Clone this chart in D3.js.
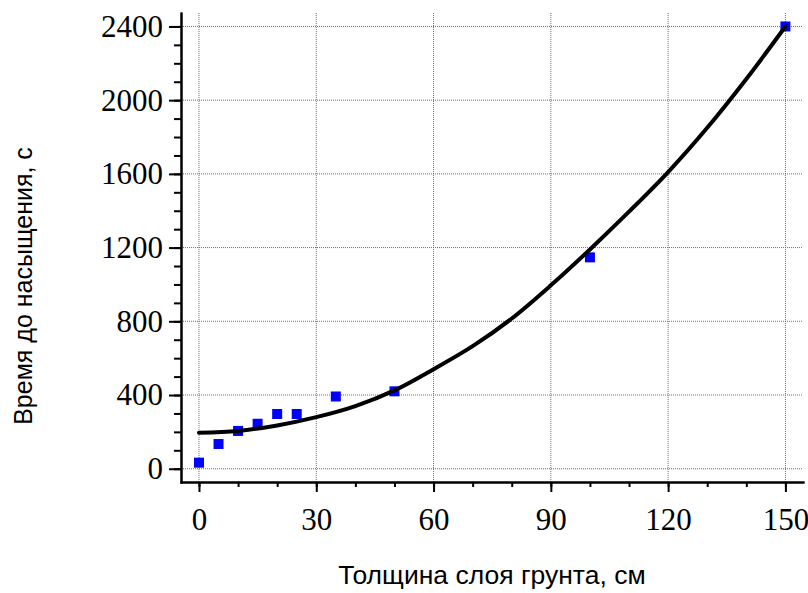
<!DOCTYPE html>
<html lang="ru">
<head>
<meta charset="utf-8">
<style>
  body { margin: 0; background: #fff; }
  .grid line { stroke: #6e6e6e; stroke-width: 1px; stroke-dasharray: 1,1; }
  .axis path, .axis line { stroke: #000; stroke-width: 2px; }
  .axis text { font-family: "Liberation Serif", "Times New Roman", serif; font-size: 31px; fill: #000; }
  .title { font-family: "Liberation Sans", Arial, sans-serif; fill: #000; }
</style>
</head>
<body>
<svg width="808" height="593"></svg>
<script src="https://cdn.jsdelivr.net/npm/d3@7"></script>
<script>
// measured points
var thickness = [0, 5, 10, 15, 20, 25, 35, 50, 100, 150];
var satTime   = [33, 134, 205, 244, 297, 297, 392, 420, 1147, 2400];

// trend curve
var fitX = [0, 10, 20, 30, 40, 50, 60, 70, 80, 90, 100, 110, 120, 130, 140, 150];
var fitY = [195, 205, 235, 280, 340, 425, 540, 665, 815, 995, 1190, 1395, 1610, 1850, 2115, 2400];

var xTicks = [0, 30, 60, 90, 120, 150];
var yTicks = [0, 400, 800, 1200, 1600, 2000, 2400];

var svg = d3.select("svg");

var x = d3.scaleLinear().domain([-4.6, 154.5]).range([181, 803]);
var y = d3.scaleLinear().domain([-72, 2473]).range([482, 13]);

// grid
svg.append("g").attr("class", "grid")
    .selectAll("line").data(xTicks).enter().append("line")
    .attr("x1", function(d) { return x(d); }).attr("x2", function(d) { return x(d); })
    .attr("y1", y.range()[0]).attr("y2", y.range()[1]);
svg.append("g").attr("class", "grid")
    .selectAll("line").data(yTicks).enter().append("line")
    .attr("y1", function(d) { return y(d); }).attr("y2", function(d) { return y(d); })
    .attr("x1", x.range()[0]).attr("x2", x.range()[1]);

// minor ticks first, then the major axis on top
svg.append("g").attr("class", "axis")
    .attr("transform", "translate(0,482)")
    .call(d3.axisBottom(x).tickValues(d3.range(0, 151, 10)).tickSize(5).tickSizeOuter(0).tickFormat(""));
svg.append("g").attr("class", "axis")
    .attr("transform", "translate(0,482)")
    .call(d3.axisBottom(x).tickValues(xTicks).tickSize(10).tickSizeOuter(0).tickPadding(16).tickFormat(d3.format("d")));

svg.append("g").attr("class", "axis")
    .attr("transform", "translate(181,0)")
    .call(d3.axisLeft(y).tickValues(d3.range(0, 2401, 100)).tickSize(7).tickSizeOuter(0).tickFormat(""));
svg.append("g").attr("class", "axis")
    .attr("transform", "translate(181,0)")
    .call(d3.axisLeft(y).tickValues(yTicks).tickSize(12).tickSizeOuter(0).tickPadding(6).tickFormat(d3.format("d")));

svg.selectAll(".axis .domain").attr("stroke-linecap", "square");

// points
svg.append("g").selectAll("rect").data(thickness).enter().append("rect")
    .attr("x", function(d) { return x(d) - 5; })
    .attr("y", function(d, i) { return y(satTime[i]) - 5; })
    .attr("width", 10).attr("height", 10)
    .attr("fill", "#0000ff");

// trend line
var line = d3.line()
    .x(function(d) { return x(d); })
    .y(function(d, i) { return y(fitY[i]); })
    .curve(d3.curveCatmullRom);

svg.append("path").datum(fitX)
    .attr("d", line)
    .attr("fill", "none")
    .attr("stroke", "#000")
    .attr("stroke-width", 4)
    .attr("stroke-linecap", "round");

// titles
svg.append("text").attr("class", "title")
    .attr("x", 492).attr("y", 575)
    .style("font-size", "26.5px")
    .attr("text-anchor", "middle").attr("dominant-baseline", "central")
    .text("Толщина слоя грунта, см");

svg.append("text").attr("class", "title")
    .attr("transform", "translate(23,286) rotate(-90)")
    .style("font-size", "25px")
    .attr("text-anchor", "middle").attr("dominant-baseline", "central")
    .text("Время до насыщения, с");
</script>
</body>
</html>
